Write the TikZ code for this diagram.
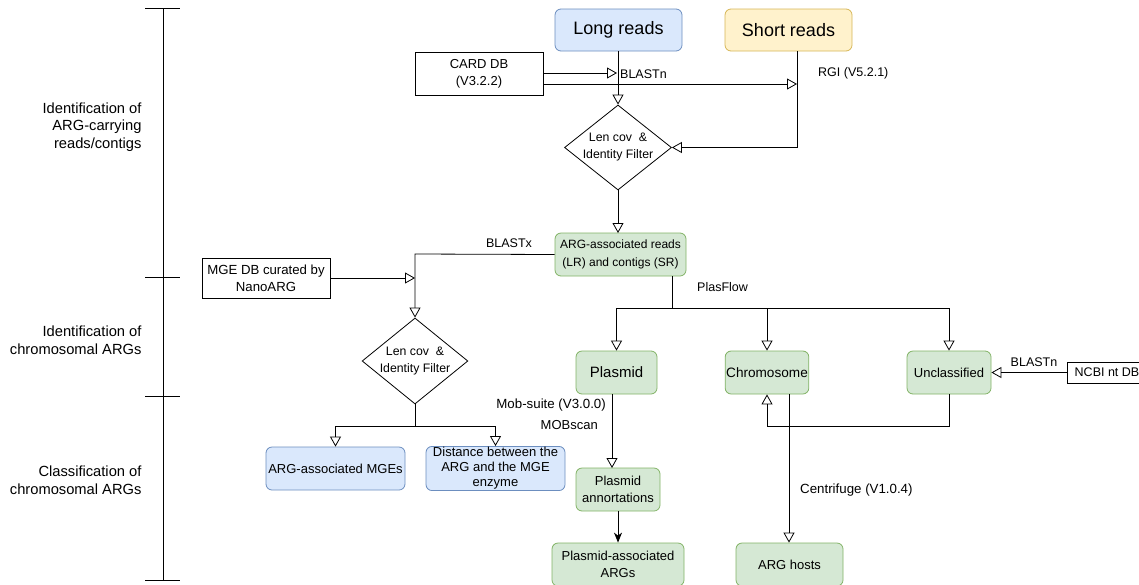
\documentclass[tikz,border=0pt]{standalone}
\usepackage{fontspec}
\setmainfont{Liberation Sans}
\usetikzlibrary{arrows.meta,shapes.geometric}
\definecolor{bfill}{HTML}{DAE8FC}\definecolor{bline}{HTML}{6C8EBF}
\definecolor{yfill}{HTML}{FFF2CC}\definecolor{yline}{HTML}{D6B656}
\definecolor{gfill}{HTML}{D5E8D4}\definecolor{gline}{HTML}{82B366}
\tikzset{
  rbox/.style={draw, rounded corners=6pt, align=center, inner sep=1pt, line width=0.8pt},
  blue/.style={rbox, fill=bfill, draw=bline},
  yel/.style={rbox, fill=yfill, draw=yline},
  grn/.style={rbox, fill=gfill, draw=gline},
  db/.style={draw, align=center, inner sep=1pt, line width=0.8pt},
  dia/.style={draw, diamond, aspect=1.26, align=center, inner sep=0pt, line width=0.8pt, font=\fontsize{12.3}{17}\selectfont},
  lbl/.style={font=\fontsize{12.5}{14}\selectfont, inner sep=0pt},
  oa/.style={-{Triangle[open,length=10pt,width=11pt]}, line width=0.8pt},
  fa/.style={-{Stealth[length=10pt,width=8pt,inset=3pt]}, line width=1pt},
  ln/.style={line width=0.8pt},
  side/.style={align=right, anchor=east, font=\fontsize{14.7}{17.5}\selectfont}
}
\begin{document}
\begin{tikzpicture}[x=1pt,y=-1pt]
\useasboundingbox (0,0) rectangle (1139,584);
% side bracket
\draw[ln] (163,8) -- (163,580);
\foreach \yy in {8,277,396,580} \draw[ln] (145,\yy) -- (180,\yy);
\node[side] (s1) at (145,127) {Identification of\\ARG-carrying\\reads/contigs};
\node[side] (s2) at (145,340) {Identification of\\chromosomal ARGs};
\node[side] (s3) at (145,480) {Classification of\\chromosomal ARGs};

% nodes
\node[blue, minimum width=127pt, minimum height=42pt, font=\fontsize{18}{20}\selectfont] (long) at (618.5,30) {Long reads};
\node[yel, minimum width=127pt, minimum height=42pt, font=\fontsize{18}{20}\selectfont] (short) at (788.5,30) {Short reads};
\node[db, minimum width=128pt, minimum height=43pt, font=\fontsize{13}{17}\selectfont] (card) at (479,73.5) {CARD DB\\(V3.2.2)};
\node[dia, minimum width=107pt, minimum height=85pt] (d1) at (618,147.5) {Len cov~~\&\\Identity Filter};
\node[grn, minimum width=131pt, minimum height=43pt, font=\fontsize{12}{18}\selectfont] (arg) at (620.5,254.5) {ARG-associated reads\\(LR) and contigs (SR)};
\node[db, minimum width=128pt, minimum height=40pt, font=\fontsize{13.2}{17}\selectfont] (mge) at (266,278) {MGE DB curated by\\NanoARG};
\node[dia, minimum width=104pt, minimum height=86pt] (d2) at (415,361) {Len cov~~\&\\Identity Filter};
\node[blue, minimum width=139pt, minimum height=43pt, font=\fontsize{13}{16}\selectfont] (mges) at (335.5,468.5) {ARG-associated MGEs};
\node[blue, minimum width=139pt, minimum height=43pt, font=\fontsize{13}{15}\selectfont] (dist) at (495.5,468.5) {Distance between the\\ARG and the MGE\\enzyme};
\node[grn, minimum width=81pt, minimum height=43pt, font=\fontsize{15}{18}\selectfont] (plas) at (616.5,372.5) {Plasmid};
\node[grn, minimum width=82pt, minimum height=43pt, font=\fontsize{13.6}{16}\selectfont] (chrom) at (767,372.5) {Chromosome};
\node[grn, minimum width=84pt, minimum height=43pt, font=\fontsize{13}{16}\selectfont] (uncl) at (949,372.5) {Unclassified};
\node[draw, line width=0.8pt, minimum width=80pt, minimum height=21pt, inner sep=1pt, font=\fontsize{12.5}{14}\selectfont] (ncbi) at (1107,372.5) {NCBI nt DB};
\node[grn, minimum width=84pt, minimum height=43pt, font=\fontsize{13}{17}\selectfont] (pann) at (618,489.5) {Plasmid\\annortations};
\node[grn, minimum width=132pt, minimum height=43pt, font=\fontsize{13}{17}\selectfont] (pargs) at (618,564.5) {Plasmid-associated\\ARGs};
\node[grn, minimum width=107pt, minimum height=43pt, font=\fontsize{13}{16}\selectfont] (hosts) at (789.5,564.5) {ARG hosts};

% connectors top
\draw[oa] (card.east |- 0,73) -- (617,73);
\draw[oa] (card.east |- 0,84) -- (797,84);
\node[lbl, anchor=west] (lb1) at (620,74) {BLASTn};
\node[lbl, anchor=west] (lb2) at (818,73) {RGI (V5.2.1)};
\draw[oa] (long.south -| 618,0) -- (d1.north);
\draw[oa] (short.south -| 797,0) |- (d1.east);
\draw[oa] (d1.south) -- (618,233);

% BLASTx branch
\coordinate (bx) at (415,254);
\draw[oa] (arg.west) -- (bx) -- (d2.north);
\node[lbl, anchor=center] (lb3) at (509,243) {BLASTx};
\draw[oa] (mge.east) -- (415,278);
\coordinate (sp2) at (415,426);
\draw[ln] (d2.south) -- (sp2);
\draw[oa] (sp2) -| (mges.north);
\draw[oa] (sp2) -| (dist.north);

% PlasFlow
\coordinate (pf) at (672,308);
\draw[ln] (arg.south -| pf) -- (pf);
\draw[oa] (pf) -| (plas.north);
\draw[oa] (pf) -| (chrom.north);
\draw[oa] (pf) -| (uncl.north);
\node[lbl, anchor=west] (lb4) at (697,287) {PlasFlow};

% NCBI
\draw[oa] (ncbi.west) -- (uncl.east);
\node[lbl, anchor=center] (lb5) at (1034,362) {BLASTn};

% unclassified back to chromosome
\draw[oa] (uncl.south) -- (949,426) -| (chrom.south);

% chromosome to hosts
\draw[oa] (789,394) -- (hosts.north -| 789,0);
\node[lbl, anchor=west, font=\fontsize{13.3}{15}\selectfont] (lb6) at (800,490) {Centrifuge (V1.0.4)};

% plasmid to annotations
\draw[oa] (612,394) -- (612,468);
\node[lbl, anchor=east, font=\fontsize{13.3}{15}\selectfont] (lb7) at (606,405) {Mob-suite (V3.0.0)};
\node[lbl, anchor=east, font=\fontsize{13}{15}\selectfont] (lb8) at (598,425) {MOBscan};
\draw[fa] (pann.south) -- (pargs.north);
\end{tikzpicture}
\end{document}
